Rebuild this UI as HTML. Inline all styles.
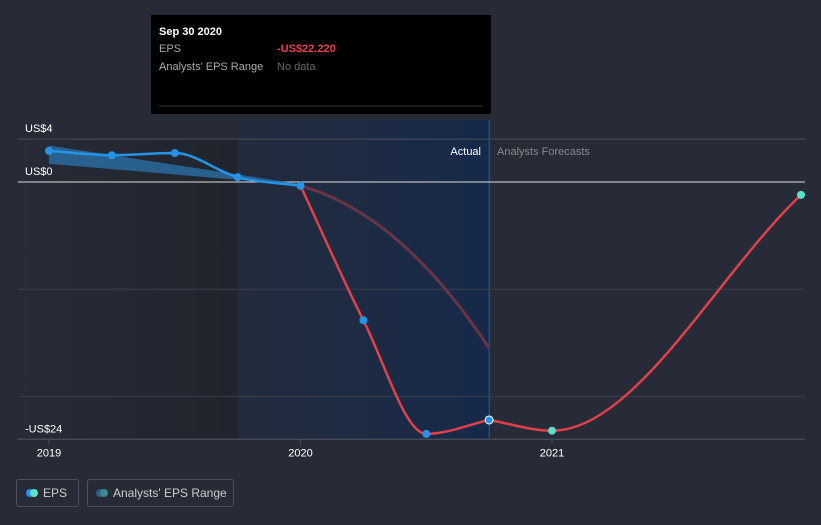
<!DOCTYPE html>
<html><head><meta charset="utf-8"><style>
body{margin:0;background:#262b37;font-family:"Liberation Sans",sans-serif;}
svg text{font-family:"Liberation Sans",sans-serif;}
</style></head><body>
<svg width="821" height="520">
<defs>
<linearGradient id="bg1" x1="0" x2="1"><stop offset="0" stop-color="#1e2c44" stop-opacity="0.5"/><stop offset="1" stop-color="#16294a"/></linearGradient>
<linearGradient id="bg0" x1="0" x2="1"><stop offset="0" stop-color="#262b37"/><stop offset="1" stop-color="#20242d"/></linearGradient>
</defs>
<g id="plot"></g>
<g>
<rect x="151" y="15" width="340" height="99" fill="#000"/>
<text x="159" y="35" fill="#fff" font-size="11" font-weight="bold">Sep 30 2020</text>
<text x="159" y="52" fill="#aaa" font-size="11">EPS</text>
<text x="277" y="52" fill="#e8404a" font-size="11" font-weight="bold">-US$22.220</text>
<text x="159" y="70" fill="#aaa" font-size="11">Analysts' EPS Range</text>
<text x="277" y="70" fill="#666" font-size="11">No data</text>
<line x1="159" y1="106" x2="483" y2="106" stroke="#333"/>
</g>
<g>
<rect x="16.5" y="479.5" width="62" height="27" rx="2" fill="none" stroke="#4a4f5a"/>
<circle cx="30" cy="493" r="4" fill="#2394e8"/><circle cx="34" cy="493" r="4" fill="#5de0c8"/>
<text x="43" y="497" fill="#ccc" font-size="12">EPS</text>
<rect x="87.5" y="479.5" width="146" height="27" rx="2" fill="none" stroke="#4a4f5a"/>
<circle cx="100" cy="493" r="4" fill="#2a5f8a"/><circle cx="104" cy="493" r="4" fill="#3f8a8a"/>
<text x="113" y="497" fill="#ccc" font-size="12">Analysts' EPS Range</text>
</g>
</svg>
<script>
const actualX=[2019,2019.25,2019.5,2019.75,2020,2020.25,2020.5,2020.75];
const actualY=[2.9,2.5,2.7,0.45,-0.35,-12.9,-23.5,-22.2];
const fcX=[2020.75,2021,2021.99];
const fcY=[-22.2,-23.2,-1.2];
const oldFcX=[2020,2020.75];
const oldFcY=[-0.35,-15.5];
const rangeX=[2019,2020];
const rangeHi=[3.4,-0.2];
const rangeLo=[1.7,-0.3];
const yTicks=[4,0,-24];
const yTickLabels=["US$4","US$0","-US$24"];
const xTicks=[2019,2020,2021];
const X=v=>49+(v-2019)*251.5;
const Y=v=>182-v*10.72;
const NS="http://www.w3.org/2000/svg";
const g=document.getElementById('plot');
function el(t,a,name){const e=document.createElementNS(NS,t);for(const k in a)e.setAttribute(k,a[k]);


g.appendChild(e);return e;}
el('rect',{x:18,y:139,width:X(2019.75)-18,height:Y(-24)-139,fill:'url(#bg0)'},'past-shade');
el('rect',{x:X(2019.75),y:120,width:X(2020.75)-X(2019.75),height:Y(-24)-120,fill:'url(#bg1)'},'actual-shade');
el('line',{x1:X(2020.75),y1:120,x2:X(2020.75),y2:Y(-24),stroke:'#2a5a90'},'today-line');
[-10,-20].forEach(v=>el('line',{x1:18,x2:805,y1:Y(v),y2:Y(v),stroke:'#3a3f4a'},'gridline'));
yTicks.forEach((v,i)=>{el('line',{x1:18,x2:805,y1:Y(v),y2:Y(v),stroke:v==0?'#ddd':'#4a4f5a'},'y-gridline');
const t=el('text',{x:25,y:Y(v)-7,fill:'#fff','font-size':11},'y-tick-label');t.textContent=yTickLabels[i];});
el('line',{x1:18,x2:805,y1:Y(-24),y2:Y(-24),stroke:'#4a4f5a'},'x-axis');
xTicks.forEach(v=>{el('line',{x1:X(v),x2:X(v),y1:Y(-24),y2:Y(-24)+5,stroke:'#4a4f5a'},'x-tick');
const t=el('text',{x:X(v),y:Y(-24)+17,fill:'#fff','font-size':11,'text-anchor':'middle'},'x-tick-label');t.textContent=v;});
let t=el('text',{x:481,y:155,fill:'#fff','font-size':11,'text-anchor':'end'},'actual-label');t.textContent='Actual';
t=el('text',{x:497,y:155,fill:'#888','font-size':11},'forecast-label');t.textContent='Analysts Forecasts';
function smooth(xs,ys){const p=xs.map((x,i)=>[X(x),Y(ys[i])]);const n=p.length;
const d=[],m=[];for(let i=0;i<n-1;i++)d.push((p[i+1][1]-p[i][1])/(p[i+1][0]-p[i][0]));
for(let i=0;i<n;i++){if(i==0)m.push(d[0]);else if(i==n-1)m.push(d[n-2]);else m.push(d[i-1]*d[i]<=0?0:(d[i-1]+d[i])/2);}
for(let i=0;i<n-1;i++){if(d[i]==0){m[i]=m[i+1]=0;continue;}const a=m[i]/d[i],b=m[i+1]/d[i],s=a*a+b*b;if(s>9){const k=3/Math.sqrt(s);m[i]=k*a*d[i];m[i+1]=k*b*d[i];}}
let s='M'+p[0];for(let i=0;i<n-1;i++){const h=(p[i+1][0]-p[i][0])/3;
s+=` C${p[i][0]+h},${p[i][1]+m[i]*h} ${p[i+1][0]-h},${p[i+1][1]-m[i+1]*h} ${p[i+1][0]},${p[i+1][1]}`;}return s;}
el('path',{d:`M${X(rangeX[0])},${Y(rangeHi[0])} L${X(rangeX[1])},${Y(rangeHi[1])} L${X(rangeX[1])},${Y(rangeLo[1])} L${X(rangeX[0])},${Y(rangeLo[0])}Z`,fill:'#2a6a9e',opacity:0.85},'eps-range-band');
el('path',{d:`M${X(oldFcX[0])},${Y(oldFcY[0])} Q${X(2020.4)},${Y(-3)} ${X(oldFcX[1])},${Y(oldFcY[1])}`,fill:'none',stroke:'#6a3448','stroke-width':3},'past-forecast-line');
el('path',{d:smooth(actualX.slice(4),actualY.slice(4)),fill:'none',stroke:'#e0404a','stroke-width':2.5},'eps-actual-red-line');
el('path',{d:smooth(actualX.slice(0,5),actualY.slice(0,5)),fill:'none',stroke:'#2394e8','stroke-width':2.5},'eps-actual-line');
el('path',{d:smooth(fcX,fcY),fill:'none',stroke:'#e0404a','stroke-width':2.5},'eps-forecast-line');
actualX.forEach((x,i)=>el('circle',{cx:X(x),cy:Y(actualY[i]),r:4,fill:'#2394e8',stroke:i==7?'#fff':'none'},'eps-point'));
fcX.slice(1).forEach((x,i)=>el('circle',{cx:X(x),cy:Y(fcY[i+1]),r:4,fill:'#5de0c8'},'forecast-point'));
</script>
</body></html>
